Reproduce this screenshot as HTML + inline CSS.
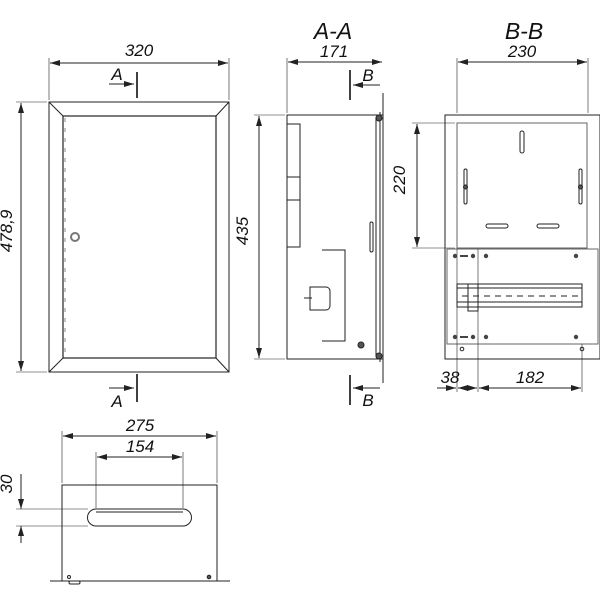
<!DOCTYPE html>
<html><head><meta charset="utf-8"><style>html,body{margin:0;padding:0;background:#fff}svg{display:block}
text{font-family:"Liberation Sans",sans-serif;font-style:italic;fill:#111;font-weight:500}</style></head><body>
<svg width="600" height="600" viewBox="0 0 600 600" xmlns="http://www.w3.org/2000/svg">
<defs>
<marker id="a" viewBox="0 0 10 6" refX="10" refY="3" markerWidth="10" markerHeight="6" orient="auto-start-reverse" markerUnits="userSpaceOnUse"><path d="M0,0L10,3L0,6z" fill="#222"/></marker>
</defs>
<g fill="none" stroke="#222" stroke-width="1">
<!-- FRONT -->
<rect x="49" y="102" width="180" height="270"/>
<rect x="63" y="116" width="153" height="242" stroke-width="1.2"/>
<line x1="49" y1="102" x2="63" y2="116"/><line x1="229" y1="102" x2="216" y2="116"/>
<line x1="49" y1="372" x2="63" y2="358"/><line x1="229" y1="372" x2="216" y2="358"/>
<line x1="65" y1="118" x2="65" y2="356" stroke="#888" stroke-dasharray="4 6"/>
<circle cx="75" cy="237" r="4" stroke="#777" stroke-width="2"/>
<line x1="49" y1="100" x2="49" y2="58" stroke-width="0.6"/><line x1="229" y1="100" x2="229" y2="58" stroke-width="0.6"/>
<line x1="50" y1="63" x2="228" y2="63" marker-start="url(#a)" marker-end="url(#a)"/>
<line x1="47" y1="102" x2="16" y2="102" stroke-width="0.6"/><line x1="47" y1="372" x2="16" y2="372" stroke-width="0.6"/>
<line x1="21" y1="103" x2="21" y2="371" marker-start="url(#a)" marker-end="url(#a)"/>
<line x1="137" y1="72" x2="137" y2="98" stroke="#111" stroke-width="1.6"/>
<line x1="109" y1="84" x2="134" y2="84" marker-end="url(#a)"/>
<line x1="137" y1="374" x2="137" y2="402" stroke="#111" stroke-width="1.6"/>
<line x1="109" y1="388" x2="134" y2="388" marker-end="url(#a)"/>
<!-- A-A -->
<rect x="287" y="115" width="96" height="244"/>
<line x1="376" y1="117" x2="376" y2="357"/><line x1="380" y1="112" x2="380" y2="362"/>
<line x1="383" y1="93" x2="383" y2="383"/>
<line x1="287" y1="113" x2="287" y2="58" stroke-width="0.6"/><line x1="288" y1="62" x2="382" y2="62" marker-start="url(#a)" marker-end="url(#a)"/>
<line x1="285" y1="115" x2="254" y2="115" stroke-width="0.6"/><line x1="285" y1="359" x2="254" y2="359" stroke-width="0.6"/>
<line x1="259" y1="116" x2="259" y2="358" marker-start="url(#a)" marker-end="url(#a)"/>
<rect x="287" y="124" width="13" height="123"/><line x1="287" y1="177" x2="300" y2="177"/><line x1="287" y1="200" x2="300" y2="200"/>
<rect x="370" y="222" width="3" height="30" rx="1.5"/>
<polyline points="322,250 345,250 345,341 322,341" stroke="#222"/>
<path d="M310,287h16a4,4 0 0 1 4,4v15a4,4 0 0 1-4,4h-16z"/><line x1="304" y1="298" x2="312" y2="298"/>
<circle cx="361" cy="345" r="3" fill="#555"/>
<circle cx="379" cy="118" r="3" fill="#555"/><circle cx="379" cy="356" r="3" fill="#555"/>
<line x1="350" y1="70" x2="350" y2="100" stroke="#111" stroke-width="1.6"/>
<line x1="380" y1="85" x2="353" y2="85" marker-end="url(#a)"/>
<line x1="350" y1="375" x2="350" y2="405" stroke="#111" stroke-width="1.6"/>
<line x1="380" y1="388" x2="353" y2="388" marker-end="url(#a)"/>
<!-- B-B -->
<rect x="445" y="115" width="155" height="244"/>
<rect x="457" y="123" width="130" height="125" stroke="#666"/>
<rect x="447" y="249" width="151" height="95" stroke="#666"/>
<line x1="457" y1="113" x2="457" y2="58" stroke-width="0.6"/><line x1="588" y1="113" x2="588" y2="58" stroke-width="0.6"/>
<line x1="458" y1="62" x2="587" y2="62" marker-start="url(#a)" marker-end="url(#a)"/>
<line x1="455" y1="123" x2="412" y2="123" stroke-width="0.6"/><line x1="455" y1="248" x2="412" y2="248" stroke-width="0.6"/>
<line x1="417" y1="124" x2="417" y2="247" marker-start="url(#a)" marker-end="url(#a)"/>
<rect x="520" y="131" width="4" height="22" rx="2"/>
<rect x="464" y="169" width="3" height="35" rx="1.5"/><rect x="579" y="169" width="3" height="35" rx="1.5"/>
<circle cx="465.5" cy="187" r="2" fill="#555"/><circle cx="580.5" cy="187" r="2" fill="#555"/>
<rect x="486" y="224" width="22" height="4" rx="2"/><rect x="537" y="224" width="22" height="4" rx="2"/>
<line x1="457" y1="249" x2="457" y2="392" stroke-width="0.6"/><line x1="478" y1="249" x2="478" y2="392" stroke-width="0.6"/>
<line x1="582" y1="344" x2="582" y2="392" stroke-width="0.6"/>
<rect x="457" y="284" width="125" height="23"/><line x1="457" y1="288" x2="582" y2="288"/><line x1="457" y1="302" x2="582" y2="302"/>
<line x1="462" y1="296" x2="582" y2="296" stroke-dasharray="6 5"/>
<rect x="468" y="284" width="10" height="27"/>
<g fill="#444" stroke="none"><circle cx="455" cy="256" r="2.2"/><circle cx="473" cy="256" r="2.2"/><circle cx="486" cy="256" r="2.2"/><circle cx="576" cy="256" r="2.2"/>
<circle cx="455" cy="337" r="2.2"/><circle cx="473" cy="337" r="2.2"/><circle cx="486" cy="337" r="2.2"/><circle cx="576" cy="337" r="2.2"/>
<rect x="460" y="255" width="8" height="2"/><rect x="460" y="336" width="8" height="2"/></g>
<circle cx="462" cy="349" r="1.8"/><circle cx="582" cy="349" r="1.8"/>
<line x1="437" y1="388" x2="456" y2="388" marker-end="url(#a)"/>
<line x1="458" y1="388" x2="477" y2="388" marker-start="url(#a)" marker-end="url(#a)"/>
<line x1="479" y1="388" x2="581" y2="388" marker-start="url(#a)" marker-end="url(#a)"/>
<!-- BOTTOM -->
<rect x="62" y="485" width="155" height="96"/>
<line x1="50" y1="581" x2="230" y2="581"/>
<line x1="62" y1="483" x2="62" y2="431" stroke-width="0.6"/><line x1="217" y1="483" x2="217" y2="431" stroke-width="0.6"/>
<line x1="63" y1="436" x2="216" y2="436" marker-start="url(#a)" marker-end="url(#a)"/>
<line x1="96" y1="508" x2="96" y2="452" stroke-width="0.6"/><line x1="183" y1="508" x2="183" y2="452" stroke-width="0.6"/>
<line x1="97" y1="457" x2="182" y2="457" marker-start="url(#a)" marker-end="url(#a)"/>
<path d="M96,509h87a8.5,8.5 0 0 1 0,17h-87a8.5,8.5 0 0 1 0,-17z"/><line x1="96" y1="512" x2="183" y2="512"/>
<line x1="88" y1="509" x2="16" y2="509" stroke-width="0.6"/><line x1="88" y1="526" x2="16" y2="526" stroke-width="0.6"/>
<line x1="21" y1="474" x2="21" y2="509" marker-end="url(#a)"/><line x1="21" y1="543" x2="21" y2="526" marker-end="url(#a)"/>
<circle cx="69" cy="577" r="1.5"/><circle cx="209" cy="577" r="1.8" fill="#555"/>
<rect x="69" y="581" width="11" height="3" rx="1.5"/>
</g>
<g font-size="17">
<text x="139" y="56" text-anchor="middle">320</text>
<text x="117" y="80" text-anchor="middle">A</text>
<text x="117" y="407" text-anchor="middle">A</text>
<text x="18" y="237" text-anchor="middle" transform="rotate(-90 12 237)">478,9</text>
<text x="333" y="39" text-anchor="middle" font-size="23">A-A</text>
<text x="334" y="57" text-anchor="middle">171</text>
<text x="368" y="81" text-anchor="middle">B</text>
<text x="368" y="406" text-anchor="middle">B</text>
<text x="254" y="237" text-anchor="middle" transform="rotate(-90 248 237)">435</text>
<text x="524" y="39" text-anchor="middle" font-size="23">B-B</text>
<text x="522" y="57" text-anchor="middle">230</text>
<text x="411" y="186" text-anchor="middle" transform="rotate(-90 405 186)">220</text>
<text x="450" y="383" text-anchor="middle">38</text>
<text x="530" y="383" text-anchor="middle">182</text>
<text x="140" y="431" text-anchor="middle">275</text>
<text x="140" y="452" text-anchor="middle">154</text>
<text x="18" y="490" text-anchor="middle" transform="rotate(-90 12 490)">30</text>
</g>
</svg>
</body></html>
